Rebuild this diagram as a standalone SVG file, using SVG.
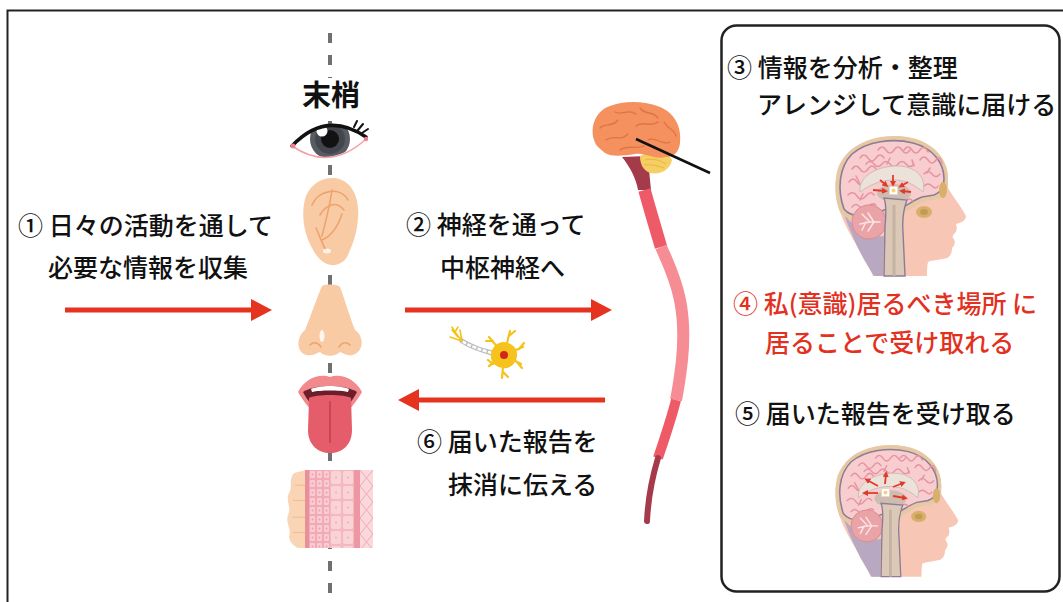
<svg xmlns="http://www.w3.org/2000/svg" width="1063" height="602" viewBox="0 0 1063 602">
  <style>
    .t { font-family: "Noto Sans CJK JP", "Noto Sans", sans-serif; font-size: 25px; font-weight: 500; fill: #111; }
    .red { fill: #e3311f; }
    .arrow { stroke: #e5331f; stroke-width: 5; fill: none; marker-end: url(#head-red); }
    .skin { fill: #f9cba5; }
    .crease { fill: none; stroke: #eea26c; stroke-width: 1.6; stroke-linecap: round; }
    .gyri { fill: none; stroke: #de7343; stroke-width: 1.3; stroke-linecap: round; }
    .folds { fill: none; stroke: #e693a0; stroke-width: 1.5; stroke-linecap: round; }
    .harrow { stroke: #e23a2a; stroke-width: 1.8; fill: none; marker-end: url(#head-tiny); }
  </style>
  <defs>
    <marker id="head-red" markerUnits="userSpaceOnUse" markerWidth="22" markerHeight="24" viewBox="0 0 22 24" refX="11" refY="12" orient="auto">
      <path d="M0,1 L21,12 L0,23 Z" fill="#e5331f"/>
    </marker>
    <marker id="head-tiny" markerUnits="userSpaceOnUse" markerWidth="6" markerHeight="6" viewBox="0 0 6 6" refX="3" refY="3" orient="auto">
      <path d="M0,0 L6,3 L0,6 Z" fill="#e23a2a"/>
    </marker>
    <pattern id="cells-small" width="7" height="9" patternUnits="userSpaceOnUse" x="309" y="470">
      <rect width="7" height="9" fill="#f2aab4"/>
      <rect x="1" y="1" width="5" height="7" rx="1" fill="#f8ccd2"/>
      <circle cx="3.5" cy="4.5" r="1" fill="#eea0ab"/>
    </pattern>
    <pattern id="cells-big" width="12" height="15" patternUnits="userSpaceOnUse" x="330" y="470">
      <rect width="12" height="15" fill="#f4b9c0"/>
      <rect x="1" y="1" width="10" height="13" rx="2" fill="#fad3d7"/>
      <circle cx="6" cy="7.5" r="1" fill="#f0b0b8"/>
    </pattern>
    <pattern id="cross" width="13" height="16" patternUnits="userSpaceOnUse" x="360" y="470">
      <rect width="13" height="16" fill="#fad8dc"/>
      <path d="M0,0 L13,16 M13,0 L0,16" stroke="#f0aab4" stroke-width="1"/>
    </pattern>
    <clipPath id="eye-clip">
      <path d="M292,146 Q326,110 366,137 Q330,172 292,146 Z"/>
    </clipPath>

    <!-- sagittal head section, reused for both views -->
    <g id="head-section">
      <path d="M873,276 C866,258 852,240 844,222 C836,204 833,184 838,168 C846,148 866,137 892,136 C916,135 936,146 944,162 C949,172 948,182 948,188 C954,198 962,208 966,216 C966,221 960,223 956,224 C957,228 957,231 955,233 C953,235 952,236 953,238 C956,241 955,245 952,248 C952,252 951,256 947,258 C940,260 932,260 928,262 C927,266 927,272 927,276 Z" fill="#f7c6b5"/>
      <!-- back of neck tissue -->
      <path d="M844,214 C851,234 859,252 869,268 L874,276 L883,276 L884,236 C871,238 856,230 844,214 Z" fill="#b9a8c1"/>
      <!-- skull -->
      <path d="M840,212 C832,192 834,166 850,151 C866,137 894,133 916,139 C936,145 949,162 948,180 C948,190 944,196 938,199 L925,201 C915,205 908,212 900,214 L884,214 C872,222 852,226 840,212 Z" fill="#e4c9a2"/>
      <!-- brain -->
      <path d="M844,209 C837,190 839,167 852,154 C867,141 893,138 913,143 C932,148 944,162 944,179 C944,188 940,193 934,195 L922,197 C913,200 906,207 898,209 L884,210 C872,216 853,220 844,209 Z" fill="#f8cdcf" stroke="#8d7c96" stroke-width="1.6"/>
      <g class="folds">
        <path d="M849,182 q4,-6 8,0 t8,0 t8,0"/>
        <path d="M848,195 q5,-5 9,1 t9,0 t8,-1"/>
        <path d="M852,169 q4,-6 8,0 t8,0 t8,0"/>
        <path d="M860,158 q4,-6 8,0 t8,0 t8,0"/>
        <path d="M878,150 q4,-6 8,0 t8,0 t8,0 t8,0"/>
        <path d="M904,150 q4,-6 8,0 t8,0 t8,2"/>
        <path d="M920,160 q4,-6 8,0 t8,0 t6,4"/>
        <path d="M924,174 q4,-5 8,0 t8,0"/>
        <path d="M924,186 q4,-4 8,0 t6,0"/>
        <path d="M852,207 q4,-5 8,0 t8,0 t8,-2"/>
        <path d="M866,164 q4,-5 8,0 t8,0 t8,0 t8,0 t8,0 t8,0"/>
        <path d="M905,201 q4,-4 8,0"/>
        <path d="M856,176 l4,8 M870,176 l-3,7 M890,158 l-3,6 M912,160 l2,6 M930,168 l-3,5 M860,200 l3,-6"/>
      </g>
      <!-- corpus callosum / ventricle -->
      <path d="M860,192 C858,176 878,165 900,166 C916,167 927,178 923,192 C915,185 905,180 894,180 C879,180 868,186 860,192 Z" fill="#ece2da" stroke="#cdbcb1" stroke-width="1"/>
      <ellipse cx="894" cy="193" rx="17" ry="9" fill="#cdbcb0"/>
      <!-- cerebellum -->
      <circle cx="869" cy="222" r="17" fill="#eaa4a8" stroke="#d98a92" stroke-width="1"/>
      <path d="M880,222 L870,222 L862,214 M870,222 L860,224 M866,222 L862,230 M874,222 L868,231 M874,222 L868,213" stroke="#fbe6e6" stroke-width="1.5" fill="none" stroke-linecap="round"/>
      <!-- brainstem -->
      <path d="M884,198 C887,206 886,216 885,226 L884,276 L905,276 L903,232 C902,220 904,208 907,200 Z" fill="#dcc8b6" stroke="#8d7c96" stroke-width="1.4"/>
      <path d="M894,205 L894,276" stroke="#c6b2a2" stroke-width="3"/>
      <!-- sinuses -->
      <ellipse cx="943" cy="190" rx="4" ry="8" fill="#d8b06a"/>
      <ellipse cx="924" cy="212" rx="8" ry="6" fill="#d8b06a"/>
      <ellipse cx="924" cy="212" rx="4" ry="3" fill="#c59a58"/>
    </g>
  </defs>

  <rect width="1063" height="602" fill="#fff"/>

  <!-- outer frame -->
  <path d="M7.5,602 V10.5 H1063" fill="none" stroke="#222" stroke-width="2"/>

  <!-- right panel -->
  <rect id="brain-panel" x="721.5" y="25.5" width="338" height="566" rx="15" fill="none" stroke="#222" stroke-width="2.5"/>

  <!-- midline -->
  <line x1="330" y1="33" x2="330" y2="600" stroke="#707070" stroke-width="4" stroke-dasharray="10 12"/>

  <g id="label-peripheral">
    <rect x="298" y="78" width="66" height="34" fill="#fff"/>
    <text x="331" y="106" text-anchor="middle" class="t" style="font-size:29px;font-weight:700">末梢</text>
  </g>

  <g id="eye">
    <path d="M292,146 Q326,110 366,137 Q330,172 292,146 Z" fill="#fff"/>
    <g clip-path="url(#eye-clip)">
      <circle cx="330" cy="139" r="20" fill="#575b62"/>
      <circle cx="330" cy="139" r="15" fill="#43474d"/>
      <circle cx="330" cy="139" r="9" fill="#121212"/>
      <circle cx="322" cy="131" r="5.5" fill="#fff"/>
    </g>
    <path d="M292,146 Q330,172 366,139" fill="none" stroke="#f2a3ab" stroke-width="1.6"/>
    <path d="M292,146 Q326,110 366,137" fill="none" stroke="#111" stroke-width="3.5" stroke-linecap="round"/>
    <path d="M354,127 L357,121 M358,130 L363,124 M362,133 L368,129" stroke="#111" stroke-width="2" stroke-linecap="round"/>
    <circle cx="293" cy="146" r="2.5" fill="#f07f8a"/>
    <circle cx="366" cy="139" r="2.2" fill="#f07f8a"/>
  </g>

  <g id="ear">
    <path class="skin" d="M335,178 C350,180 360,195 358,218 C357,235 352,245 348,255 C344,264 334,267 327,264 C318,260 314,252 310,244 C303,230 301,210 306,196 C311,184 322,177 335,178 Z"/>
    <path class="crease" d="M312,205 C318,190 340,186 348,200"/>
    <path class="crease" d="M320,215 C326,205 336,200 344,210"/>
    <path class="crease" d="M332,190 C330,205 326,220 322,236"/>
    <path class="crease" d="M342,214 C338,226 332,236 322,240"/>
    <path class="crease" d="M316,228 C320,236 322,244 326,250"/>
    <ellipse cx="327" cy="251" rx="4" ry="2.5" fill="#fff" opacity="0.75"/>
  </g>

  <g id="nose">
    <path class="skin" d="M322,286 C326,284 337,284 340,287 C345,300 350,318 355,330 C364,336 364,350 355,354 C350,357 344,354 340,352 C335,357 325,357 320,352 C316,354 309,357 304,354 C296,350 297,336 305,330 C310,318 316,300 322,286 Z"/>
    <path class="crease" d="M310,345 C314,341 319,343 321,347"/>
    <path class="crease" d="M339,347 C341,343 346,341 350,345"/>
    <ellipse cx="322" cy="336" rx="2.5" ry="6" fill="#fff" opacity="0.8"/>
  </g>

  <g id="mouth">
    <path d="M298,392 C305,378 320,373 330,377 C340,373 355,378 362,392 C356,402 350,410 345,412 L315,412 C310,410 304,402 298,392 Z" fill="#f2898c"/>
    <path d="M303,392 C315,384 345,384 357,392 C352,402 346,408 340,410 L320,410 C314,408 308,402 303,392 Z" fill="#6c1e2b"/>
    <path d="M311,389 C320,385 340,385 349,389 L348,392 C340,390 320,390 312,392 Z" fill="#fff"/>
    <path d="M309,398 C315,394 345,394 351,398 L352,430 C352,445 342,453 330,453 C318,453 308,445 308,430 Z" fill="#e55d6b"/>
    <path d="M330,401 L330,443" stroke="#bf3f50" stroke-width="1.5"/>
  </g>

  <g id="skin">
    <path d="M306,470 L294,473 C288,480 293,487 289,493 C285,501 292,507 288,515 C285,523 292,529 289,537 C290,543 294,546 298,548 L306,548 Z" fill="#f9d5b6"/>
    <path d="M295,485 C299,486 302,484 306,486 M293,500 C298,502 302,499 306,501 M292,517 C297,518 302,516 306,518 M293,532 C298,534 302,531 306,533" stroke="#f1bd98" stroke-width="1.2" fill="none"/>
    <rect x="305" y="470" width="4" height="78" fill="#e98e9b"/>
    <rect x="309" y="470" width="21" height="78" fill="url(#cells-small)"/>
    <rect x="330" y="470" width="24" height="78" fill="url(#cells-big)"/>
    <rect x="354" y="470" width="6" height="78" fill="#ec97a3"/>
    <rect x="360" y="470" width="13" height="78" fill="url(#cross)"/>
  </g>

  <g id="neuron">
    <path d="M492,353 C480,350 470,346 462,341" fill="none" stroke="#bdbdbd" stroke-width="5" stroke-linecap="round"/>
    <path d="M492,353 C480,350 470,346 462,341" fill="none" stroke="#fff" stroke-width="2.5" stroke-dasharray="4 1.5"/>
    <path d="M462,341 L455,332 M462,341 L450,337 M458,337 L452,330 M462,341 L460,330 M455,332 L452,327 M455,332 L458,327" stroke="#f5c21b" stroke-width="1.6" fill="none" stroke-linecap="round"/>
    <path d="M504,355 L489,337 M493,341 L486,341 M504,355 L510,331 M509,336 L515,331 M504,355 L523,347 M519,349 L524,343 M504,355 L521,364 M517,362 L522,368 M504,355 L502,378 M503,372 L508,377 M504,355 L489,366 M493,364 L488,360" stroke="#f5c21b" stroke-width="2.2" fill="none" stroke-linecap="round"/>
    <path d="M504,342 C512,343 518,348 517,356 C516,364 510,369 503,368 C495,367 490,362 491,354 C492,347 497,342 504,342 Z" fill="#f6c21c"/>
    <circle cx="504" cy="355" r="4" fill="#d3291b"/>
  </g>

  <g id="cns">
    <path d="M622,157 L648,156 C649,170 650,180 651,190 L638,190 C636,178 630,167 622,157 Z" fill="#a53a4a"/>
    <path d="M644.5,190 C650,210 656,230 661,247" fill="none" stroke="#ee5a68" stroke-width="12.5"/>
    <path d="M661,247 C668,262 676,280 680,300 C684,320 684,340 682,360 C680,378 678,390 676,400" fill="none" stroke="#f68d94" stroke-width="12"/>
    <path d="M676,400 C671,420 664,440 658,458" fill="none" stroke="#ee5a68" stroke-width="10"/>
    <path d="M658,458 C652,478 648,500 647,521" fill="none" stroke="#a53a4a" stroke-width="6" stroke-linecap="round"/>
    <path d="M640,156 C650,150 668,152 672,160 C670,170 660,175 650,173 C643,170 640,164 640,156 Z" fill="#f5cf63"/>
    <path d="M645,160 C652,158 660,160 666,164 M644,165 C651,164 658,166 664,168" stroke="#e6b643" stroke-width="1" fill="none"/>
    <path d="M598,147 C588,135 592,112 610,106 C625,100 645,101 660,107 C675,113 682,128 680,143 C679,152 673,158 665,157 C655,160 645,152 635,154 C622,156 612,157 605,153 Z" fill="#f4915e"/>
    <g class="gyri">
      <path d="M600,128 C606,122 612,128 618,120"/>
      <path d="M606,140 C614,134 620,142 628,134"/>
      <path d="M615,112 C622,116 628,108 636,114"/>
      <path d="M640,108 C646,116 652,110 658,118"/>
      <path d="M636,126 C644,120 650,128 658,122"/>
      <path d="M664,122 C668,130 674,128 676,136"/>
      <path d="M648,140 C656,136 662,146 670,142"/>
      <path d="M620,150 C628,144 636,150 644,146"/>
    </g>
  </g>

  <g id="head-converge">
    <use href="#head-section"/>
    <g class="harrow">
      <path d="M873,190 L885,191"/>
      <path d="M893,175 L893,184"/>
      <path d="M880,180 L886,185"/>
      <path d="M908,182 L901,186"/>
      <path d="M911,192 L902,191"/>
    </g>
    <rect x="889.5" y="186.5" width="8" height="8" fill="#fff" stroke="#e6d6c8" stroke-width="1"/>
    <circle cx="893.5" cy="190.5" r="2" fill="#f2d27a"/>
  </g>

  <g id="head-diverge">
    <use href="#head-section" transform="translate(50.1,317.2) scale(0.94)"/>
    <rect x="881.5" y="488.5" width="8" height="8" fill="#fff" stroke="#e6d6c8" stroke-width="1"/>
    <circle cx="885.5" cy="492.5" r="2" fill="#f2d27a"/>
    <g class="harrow">
      <path d="M878,486 L867,480"/>
      <path d="M885,484 L886,474"/>
      <path d="M893,487 L903,483"/>
      <path d="M878,493 L865,493"/>
      <path d="M893,496 L905,498"/>
    </g>
  </g>

  <g id="connectors">
    <path class="arrow" d="M65,310 H262"/>
    <path class="arrow" d="M405,310 H602"/>
    <path class="arrow" d="M605,400 H408"/>
    <path d="M636,139 L710,173" stroke="#111" stroke-width="2.5"/>
  </g>

  <g id="labels">
    <text class="t" x="18" y="235">① 日々の活動を通して</text>
    <text class="t" x="48" y="277">必要な情報を収集</text>
    <text class="t" x="406" y="234">② 神経を通って</text>
    <text class="t" x="440" y="277">中枢神経へ</text>
    <text class="t" x="417" y="451">⑥ 届いた報告を</text>
    <text class="t" x="448" y="494">抹消に伝える</text>
    <text class="t" x="727" y="77">③ 情報を分析・整理</text>
    <text class="t" x="757" y="114">アレンジして意識に届ける</text>
    <text class="t red" x="733" y="313">④ 私(意識)居るべき場所 に</text>
    <text class="t red" x="765" y="352">居ることで受け取れる</text>
    <text class="t" x="735" y="423">⑤ 届いた報告を受け取る</text>
  </g>
</svg>
